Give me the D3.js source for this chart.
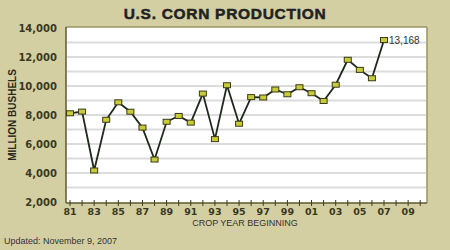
<!DOCTYPE html>
<html><head><meta charset="utf-8">
<script src="https://cdn.jsdelivr.net/npm/d3@7"></script>
<style>body{margin:0;background:#d3cfa3;}svg{display:block;}</style>
</head><body>
<script>
const years = [1981,1982,1983,1984,1985,1986,1987,1988,1989,1990,1991,1992,1993,1994,1995,1996,1997,1998,1999,2000,2001,2002,2003,2004,2005,2006,2007];
const production = [8119,8235,4174,7672,8875,8226,7131,4929,7532,7934,7475,9477,6336,10051,7400,9233,9207,9759,9431,9915,9503,8967,10089,11807,11112,10535,13168];
const xTickYears = [1981,1983,1985,1987,1989,1991,1993,1995,1997,1999,2001,2003,2005,2007,2009];
const yTicks = [2000,4000,6000,8000,10000,12000,14000];

const W=450,H=250;
const svg=d3.select("body").append("svg").attr("width",W).attr("height",H);
svg.append("rect").attr("width",W).attr("height",H).attr("fill","#d3cfa3");
const L=66,R=427,T=27,B=203;
const x=d3.scaleLinear().domain([1981,2007]).range([70,384]);
const y=d3.scaleLinear().domain([2000,14000]).range([202,28]);

svg.append("rect").attr("x",L).attr("y",T).attr("width",R-L).attr("height",B-T).attr("fill","#ffffff");
// gridlines
const grid=d3.range(3000,14000,1000);
svg.append("g").selectAll("line").data(grid).join("line")
 .attr("x1",L+1).attr("x2",R-1).attr("y1",d=>y(d)).attr("y2",d=>y(d))
 .attr("stroke","#dcdcdc").attr("stroke-width",2);
// border
svg.append("line").attr("x1",L).attr("x2",R).attr("y1",T).attr("y2",T).attr("stroke","#9a9660").attr("stroke-width",1.5);
svg.append("line").attr("x1",R).attr("x2",R).attr("y1",T).attr("y2",B).attr("stroke","#9a9660").attr("stroke-width",1.5);
svg.append("line").attr("x1",L).attr("x2",L).attr("y1",T).attr("y2",B).attr("stroke","#5e5a30").attr("stroke-width",1.5);

// x axis
const allYears=d3.range(1981,2011);
const xa=svg.append("g").attr("transform",`translate(0,${B})`);
xa.append("line").attr("x1",L).attr("x2",R).attr("stroke","#5e5a30").attr("stroke-width",1.5);
xa.selectAll("line.t").data(allYears).join("line").attr("class","t")
 .attr("x1",d=>x(d)).attr("x2",d=>x(d)).attr("y1",-3).attr("y2",3).attr("stroke","#3d3a20").attr("stroke-width",1);
xa.selectAll("text").data(xTickYears).join("text")
 .attr("x",d=>x(d)).attr("y",12).attr("text-anchor","middle")
 .attr("font-family","Verdana, DejaVu Sans, sans-serif").attr("font-weight","bold").attr("font-size",9.5).attr("fill","#3a3820")
 .text(d=>String(d%100).padStart(2,"0"));

// y axis labels
svg.append("g").selectAll("text").data(yTicks).join("text")
 .attr("x",57).attr("y",d=>y(d)+4).attr("text-anchor","end")
 .attr("font-family","Verdana, DejaVu Sans, sans-serif").attr("font-weight","bold").attr("font-size",10).attr("fill","#3a3820")
 .text(d=>d3.format(",")(d));

// line
svg.append("path").datum(years.map((d,i)=>[d,production[i]]))
 .attr("d",d3.line().x(d=>x(d[0])).y(d=>y(d[1])))
 .attr("fill","none").attr("stroke","#1f2a1c").attr("stroke-width",1.8);
svg.append("g").selectAll("rect").data(years.map((d,i)=>[d,production[i]])).join("rect")
 .attr("x",d=>x(d[0])-3.5).attr("y",d=>y(d[1])-2.5).attr("width",7).attr("height",5)
 .attr("fill","#c8cc3c").attr("stroke","#3a3a14").attr("stroke-width",1);

svg.append("text").attr("x",x(2007)+5).attr("y",y(13168)+3.5)
 .attr("font-family","Arial, Liberation Sans, sans-serif").attr("font-size",10).attr("fill","#333")
 .text(d3.format(",")(production[production.length-1]));

// title
svg.append("text").attr("x",225).attr("y",19).attr("text-anchor","middle")
 .attr("font-family","Arial, Liberation Sans, sans-serif").attr("font-weight","bold").attr("font-size",15.5).attr("letter-spacing",0.7)
 .attr("fill","#222").attr("stroke","#222").attr("stroke-width",0.5)
 .text("U.S. CORN PRODUCTION");
svg.append("text").attr("transform","translate(16,115) rotate(-90)").attr("text-anchor","middle")
 .attr("font-family","Arial, Liberation Sans, sans-serif").attr("font-weight","bold").attr("font-size",10).attr("fill","#2a2818")
 .text("MILLION BUSHELS");
svg.append("text").attr("x",245).attr("y",226).attr("text-anchor","middle")
 .attr("font-family","Arial, Liberation Sans, sans-serif").attr("font-size",9).attr("fill","#333")
 .text("CROP YEAR BEGINNING");
svg.append("text").attr("x",4).attr("y",244)
 .attr("font-family","Arial, Liberation Sans, sans-serif").attr("font-size",9).attr("fill","#333")
 .text("Updated: November 9, 2007");
</script>
</body></html>
